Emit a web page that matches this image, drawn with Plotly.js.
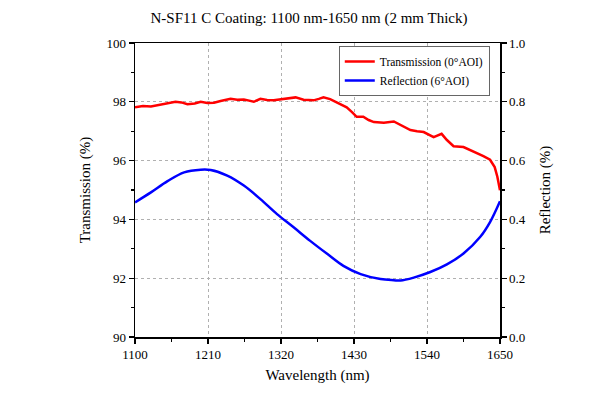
<!DOCTYPE html>
<html>
<head>
<meta charset="utf-8">
<script src="https://cdn.plot.ly/plotly-3.0.1.min.js"></script>
<style>html,body{margin:0;padding:0;background:#fff;}#chart{width:600px;height:400px;}</style>
</head>
<body>
<div id="chart"></div>
<script>
var transWl = [1100,1112,1124,1136,1149,1161,1170,1179,1190,1199,1209,1219,1229,1244,1254,1264,1272,1279,1289,1299,1309,1319,1329,1336,1342,1354,1369,1377,1384,1394,1402,1409,1419,1427,1434,1444,1452,1460,1475,1490,1502,1515,1525,1535,1550,1562,1570,1580,1595,1605,1615,1625,1635,1642,1646,1650];
var transVal = [97.81,97.86,97.84,97.9,97.94,98.0,97.98,97.92,97.94,98.0,97.96,97.97,98.03,98.1,98.07,98.08,98.04,98.0,98.1,98.06,98.05,98.08,98.1,98.12,98.15,98.07,98.05,98.1,98.15,98.09,98.0,97.94,97.81,97.65,97.49,97.49,97.38,97.31,97.29,97.33,97.2,97.04,97.0,96.97,96.8,96.91,96.7,96.49,96.46,96.36,96.26,96.15,96.03,95.78,95.45,94.99];
var reflWl = [1100,1124,1149,1174,1199,1214,1239,1264,1289,1314,1339,1364,1390,1414,1440,1470,1490,1500,1520,1545,1570,1595,1620,1635,1650];
var reflVal = [0.458,0.492,0.53,0.56,0.569,0.568,0.549,0.515,0.469,0.418,0.373,0.327,0.282,0.242,0.214,0.197,0.193,0.192,0.202,0.221,0.247,0.284,0.34,0.391,0.462];
var xTicks = [1100,1210,1320,1430,1540,1650];

var fontFam = '"Liberation Serif", "Times New Roman", serif';
var traces = [
  {x: transWl, y: transVal, type: 'scatter', mode: 'lines', name: 'Transmission (0°AOI)',
   line: {color: '#ff0000', width: 2.5}, yaxis: 'y'},
  {x: reflWl, y: reflVal, type: 'scatter', mode: 'lines', name: 'Reflection (6°AOI)',
   line: {color: '#0000ff', width: 2.5, shape: 'spline'}, yaxis: 'y2'}
];
var axCommon = {
  showline: true, linecolor: '#000', linewidth: 1.5, ticks: 'outside', ticklen: 5, tickwidth: 1.2, tickcolor: '#000',
  showgrid: true, gridcolor: '#b0b0b0', griddash: 'dot', gridwidth: 1, zeroline: false,
  tickfont: {family: fontFam, size: 13, color: '#000'}
};
var layout = {
  width: 600, height: 400,
  margin: {l: 135, r: 100, t: 43, b: 63},
  paper_bgcolor: '#fff', plot_bgcolor: '#fff',
  font: {family: fontFam, color: '#000'},
  title: {text: 'N-SF11 C Coating: 1100 nm-1650 nm (2 mm Thick)', font: {family: fontFam, size: 15, color: '#000'}, x: 0.515, xanchor: 'center', y: 0.955, yanchor: 'middle'},
  xaxis: Object.assign({}, axCommon, {
    range: [1100, 1650], tickvals: xTicks, ticktext: xTicks.map(String), mirror: true,
    minor: {dtick: 55, tick0: 1100, ticks: 'outside', ticklen: 3, tickcolor: '#000', showgrid: false},
    title: {text: 'Wavelength (nm)', font: {family: fontFam, size: 15, color: '#000'}, standoff: 8}
  }),
  yaxis: Object.assign({}, axCommon, {
    range: [90, 100], dtick: 2, tick0: 90,
    minor: {dtick: 1, ticks: 'outside', ticklen: 3, tickcolor: '#000', showgrid: false},
    title: {text: 'Transmission (%)', font: {family: fontFam, size: 15, color: '#000'}, standoff: 12}
  }),
  yaxis2: Object.assign({}, axCommon, {
    range: [0, 1], dtick: 0.2, tick0: 0, overlaying: 'y', side: 'right', showgrid: false, tickformat: '.1f',
    minor: {dtick: 0.1, ticks: 'outside', ticklen: 3, tickcolor: '#000', showgrid: false},
    title: {text: 'Reflection (%)', font: {family: fontFam, size: 15, color: '#000'}, standoff: 14}
  }),
  showlegend: true,
  legend: {x: 0.972, y: 0.99, xanchor: 'right', yanchor: 'top', bgcolor: '#fff', bordercolor: '#666', borderwidth: 1,
    font: {family: fontFam, size: 11.5, color: '#000'}, tracegroupgap: 0, itemwidth: 30}
};
Plotly.newPlot('chart', traces, layout, {staticPlot: true, displayModeBar: false});
</script>
</body>
</html>
